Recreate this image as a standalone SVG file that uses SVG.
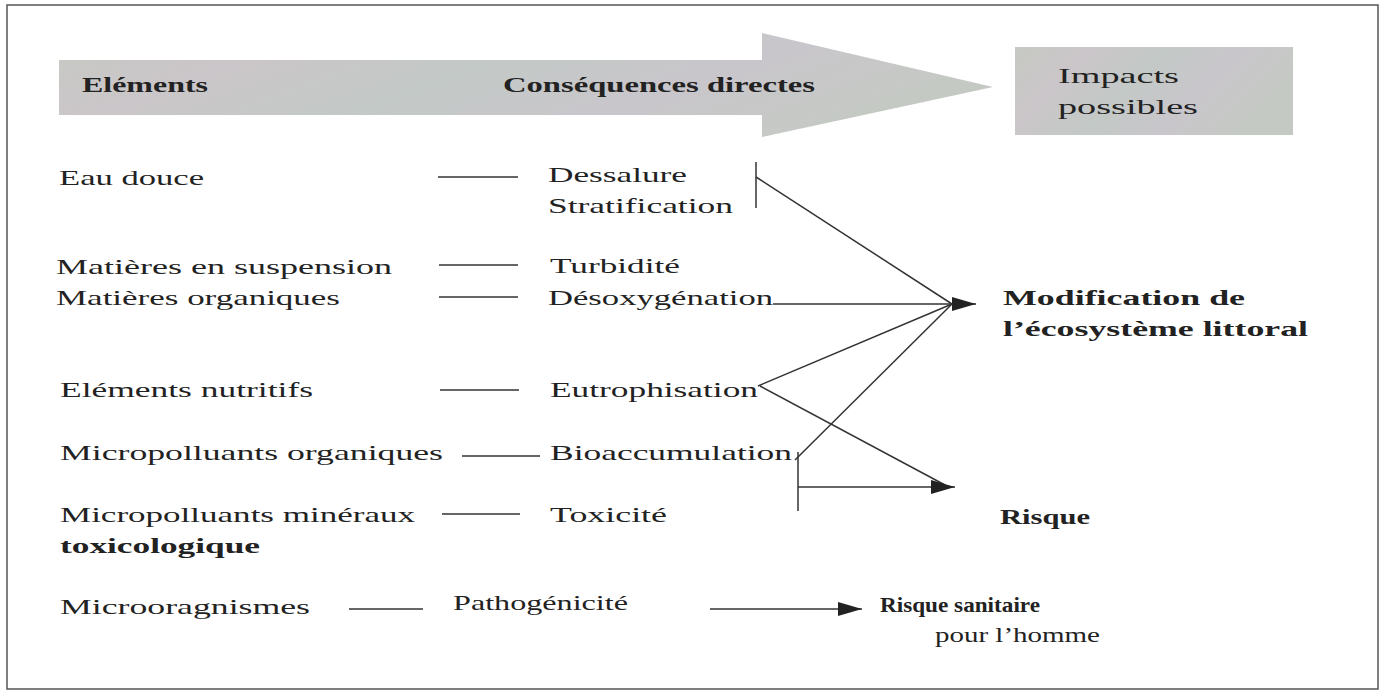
<svg xmlns="http://www.w3.org/2000/svg" width="1382" height="693" viewBox="0 0 1382 693">
<style>
.t{font-family:"Liberation Serif","Times New Roman",serif;font-size:22px;fill:#222}
.b{font-weight:bold}
.ln{stroke:#333;stroke-width:1.5;fill:none}
.band{fill:url(#tex)}
</style>
<defs>
<linearGradient id="tex" x1="0" y1="0" x2="1" y2="0.3">
<stop offset="0" stop-color="#c6c9c3"/>
<stop offset="0.25" stop-color="#cbc6c9"/>
<stop offset="0.5" stop-color="#c3c9c6"/>
<stop offset="0.75" stop-color="#c9c6cb"/>
<stop offset="1" stop-color="#c5c9c4"/>
</linearGradient>
<marker id="ah" markerUnits="userSpaceOnUse" markerWidth="26" markerHeight="16" refX="24" refY="7" orient="auto">
<path d="M0,0 L24,7 L0,14 Z" fill="#222"/>
</marker>
</defs>
<rect id="frame" x="7" y="5" width="1371" height="684" fill="#fff" stroke="#555" stroke-width="1.5"/>
<g id="header">
<polygon class="band" points="59,60 762,60 762,33 993,87 762,137 762,115 59,115"/>
<rect class="band" x="1015" y="47" width="278" height="88"/>
<text class="t b" x="82" y="92" textLength="126" lengthAdjust="spacingAndGlyphs">Eléments</text>
<text class="t b" x="503" y="92" textLength="312" lengthAdjust="spacingAndGlyphs">Conséquences directes</text>
<text class="t" x="1058" y="83" font-size="25" textLength="121" lengthAdjust="spacingAndGlyphs">Impacts</text>
<text class="t" x="1058" y="114" font-size="25" textLength="140" lengthAdjust="spacingAndGlyphs">possibles</text>
</g>
<g id="elements">
<text class="t" x="59" y="185" textLength="145" lengthAdjust="spacingAndGlyphs">Eau douce</text>
<text class="t" x="56" y="274" textLength="336" lengthAdjust="spacingAndGlyphs">Matières en suspension</text>
<text class="t" x="56" y="305" textLength="284" lengthAdjust="spacingAndGlyphs">Matières organiques</text>
<text class="t" x="60" y="397" textLength="253" lengthAdjust="spacingAndGlyphs">Eléments nutritifs</text>
<text class="t" x="60" y="460" textLength="383" lengthAdjust="spacingAndGlyphs">Micropolluants organiques</text>
<text class="t" x="60" y="522" textLength="355" lengthAdjust="spacingAndGlyphs">Micropolluants minéraux</text>
<text class="t b" x="60" y="553" textLength="200" lengthAdjust="spacingAndGlyphs">toxicologique</text>
<text class="t" x="60" y="614" textLength="250" lengthAdjust="spacingAndGlyphs">Microoragnismes</text>
</g>
<g id="consequences">
<text class="t" x="548" y="182" textLength="139" lengthAdjust="spacingAndGlyphs">Dessalure</text>
<text class="t" x="548" y="213" textLength="185" lengthAdjust="spacingAndGlyphs">Stratification</text>
<text class="t" x="550" y="273" textLength="130" lengthAdjust="spacingAndGlyphs">Turbidité</text>
<text class="t" x="548" y="305" textLength="225" lengthAdjust="spacingAndGlyphs">Désoxygénation</text>
<text class="t" x="550" y="397" textLength="208" lengthAdjust="spacingAndGlyphs">Eutrophisation</text>
<text class="t" x="550" y="460" textLength="242" lengthAdjust="spacingAndGlyphs">Bioaccumulation</text>
<text class="t" x="550" y="522" textLength="117" lengthAdjust="spacingAndGlyphs">Toxicité</text>
<text class="t" x="453" y="610" font-size="19" textLength="175" lengthAdjust="spacingAndGlyphs">Pathogénicité</text>
</g>
<g id="impacts">
<text class="t b" x="1003" y="305" textLength="242" lengthAdjust="spacingAndGlyphs">Modification de</text>
<text class="t b" x="1003" y="336" textLength="305" lengthAdjust="spacingAndGlyphs">l’écosystème littoral</text>
<text class="t b" x="1000" y="524" textLength="90" lengthAdjust="spacingAndGlyphs">Risque</text>
<text class="t b" x="880" y="612" font-size="20" textLength="160" lengthAdjust="spacingAndGlyphs">Risque sanitaire</text>
<text class="t" x="935" y="642" textLength="165" lengthAdjust="spacingAndGlyphs">pour l’homme</text>
</g>
<g id="connectors" class="ln">
<line x1="438" y1="177" x2="518" y2="177"/>
<line x1="439" y1="265" x2="518" y2="265"/>
<line x1="439" y1="297" x2="518" y2="297"/>
<line x1="440" y1="390" x2="519" y2="390"/>
<line x1="462" y1="456" x2="540" y2="456"/>
<line x1="442" y1="514" x2="520" y2="514"/>
<line x1="349" y1="609" x2="423" y2="609"/>
<line x1="756" y1="162" x2="756" y2="208"/>
<line x1="756" y1="177" x2="952" y2="304"/>
<line x1="773" y1="304" x2="976" y2="304" marker-end="url(#ah)"/>
<line x1="758" y1="386" x2="952" y2="304"/>
<line x1="795" y1="460" x2="952" y2="304"/>
<line x1="760" y1="386" x2="945" y2="485"/>
<line x1="798" y1="452" x2="798" y2="511"/>
<line x1="798" y1="487" x2="955" y2="487" marker-end="url(#ah)"/>
<line x1="710" y1="609" x2="862" y2="609" marker-end="url(#ah)"/>
</g>
</svg>
